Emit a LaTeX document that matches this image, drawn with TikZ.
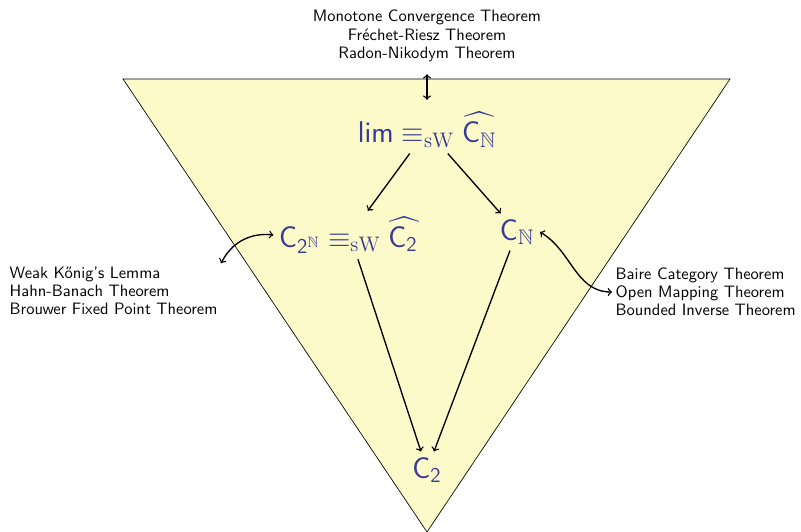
\documentclass[tikz,border=0pt]{standalone}
\usepackage{amssymb}
\usepackage{fontspec}
\definecolor{probblue}{RGB}{56,56,150}
\definecolor{triyellow}{RGB}{252,250,200}
\begin{document}
\begin{tikzpicture}[x=0.6pt,y=0.6pt,every node/.style={font=\sffamily\fontsize{9.9}{10.9}\selectfont}]
\useasboundingbox (0,0) rectangle (801,532);
% Weihrauch triangle
\draw[fill=triyellow] (123,453) -- (730,453) -- (427,0) -- cycle;
\tikzset{prob/.style={text=probblue,font=\fontsize{18}{22}\selectfont}, thm/.style={align=left,inner sep=2pt}}
\node[prob] (lim) at (427,402) {$\mathsf{lim}\equiv_{\mathrm{sW}}\widehat{\mathsf{C}_{\mathbb{N}}}$};
\node[prob] (c2n) at (350,297) {$\mathsf{C}_{\mathsf{2}^{\mathbb{N}}}\equiv_{\mathrm{sW}}\widehat{\mathsf{C}_{\mathsf{2}}\mkern2mu}$};
\node[prob] (cn) at (517,300) {$\mathsf{C}_{\mathbb{N}}$};
\node[prob] (c2) at (427,62) {$\mathsf{C}_{\mathsf{2}}$};
% theorems
\node[align=center] (mct) at (427,496) {Monotone Convergence Theorem\\Fréchet-Riesz Theorem\\Radon-Nikodym Theorem};
\node[thm,anchor=west] (wkl) at (6,241) {Weak Kőnig's Lemma\\Hahn-Banach Theorem\\Brouwer Fixed Point Theorem};
\node[thm,anchor=west] (bct) at (612,240) {Baire Category Theorem\\Open Mapping Theorem\\Bounded Inverse Theorem};
% reductions
\draw[thick,->] (lim) -- (c2n);
\draw[thick,->] (lim) -- (cn);
\draw[thick,->] (c2n) -- (c2);
\draw[thick,->] (cn) -- (c2);
% equivalences
\draw[thick,<->,shorten <=4pt,shorten >=4pt] (mct) -- (lim);
\draw[thick,<->] (c2n.west) to[bend right=35] (wkl.north east);
\draw[thick,<->] (cn.east) to[out=-30,in=180] (bct.west);
\end{tikzpicture}
\end{document}
